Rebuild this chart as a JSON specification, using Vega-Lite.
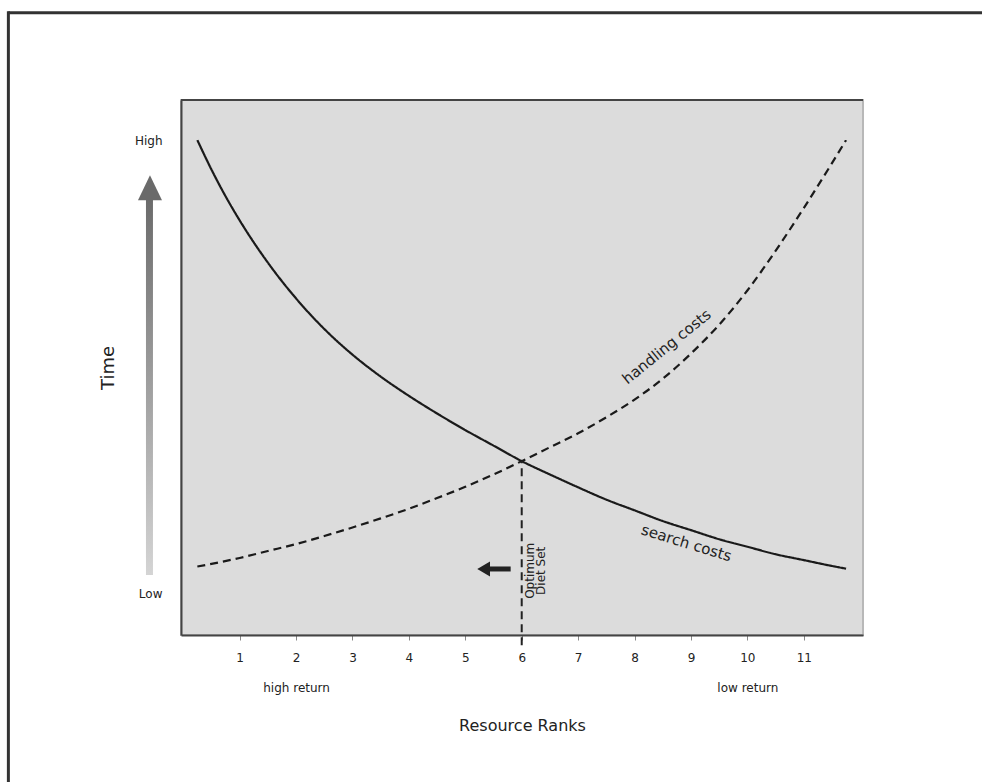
{
  "$schema": "https://vega.github.io/schema/vega-lite/v6.json",
  "width": 682,
  "height": 535,
  "autosize": {"type": "none"},
  "padding": {"left": 181, "top": 100, "right": 119, "bottom": 147},
  "background": "white",
  "config": {
    "font": "DejaVu Sans",
    "view": {"fill": "#dcdcdc", "stroke": "#b8b8b8", "strokeWidth": 2},
    "axis": {"grid": false}
  },
  "datasets": {
    "curves": [
      {"curve": "search", "x": 0.25, "y": 9.25},
      {"curve": "search", "x": 0.5, "y": 8.7},
      {"curve": "search", "x": 0.75, "y": 8.2},
      {"curve": "search", "x": 1, "y": 7.75},
      {"curve": "search", "x": 1.5, "y": 6.96},
      {"curve": "search", "x": 2, "y": 6.29},
      {"curve": "search", "x": 2.5, "y": 5.72},
      {"curve": "search", "x": 3, "y": 5.24},
      {"curve": "search", "x": 3.5, "y": 4.83},
      {"curve": "search", "x": 4, "y": 4.47},
      {"curve": "search", "x": 4.5, "y": 4.14},
      {"curve": "search", "x": 5, "y": 3.83},
      {"curve": "search", "x": 5.5, "y": 3.54},
      {"curve": "search", "x": 6, "y": 3.25},
      {"curve": "search", "x": 6.5, "y": 3.0},
      {"curve": "search", "x": 7, "y": 2.76},
      {"curve": "search", "x": 7.5, "y": 2.53},
      {"curve": "search", "x": 8, "y": 2.33},
      {"curve": "search", "x": 8.5, "y": 2.13},
      {"curve": "search", "x": 9, "y": 1.96},
      {"curve": "search", "x": 9.5, "y": 1.79},
      {"curve": "search", "x": 10, "y": 1.65},
      {"curve": "search", "x": 10.5, "y": 1.51},
      {"curve": "search", "x": 11, "y": 1.4},
      {"curve": "search", "x": 11.5, "y": 1.29},
      {"curve": "search", "x": 11.75, "y": 1.24},
      {"curve": "handling", "x": 0.25, "y": 1.28},
      {"curve": "handling", "x": 0.5, "y": 1.33},
      {"curve": "handling", "x": 1, "y": 1.44},
      {"curve": "handling", "x": 1.5, "y": 1.57},
      {"curve": "handling", "x": 2, "y": 1.7},
      {"curve": "handling", "x": 2.5, "y": 1.85},
      {"curve": "handling", "x": 3, "y": 2.01},
      {"curve": "handling", "x": 3.5, "y": 2.18},
      {"curve": "handling", "x": 4, "y": 2.36},
      {"curve": "handling", "x": 4.5, "y": 2.56},
      {"curve": "handling", "x": 5, "y": 2.77},
      {"curve": "handling", "x": 5.5, "y": 3.0},
      {"curve": "handling", "x": 6, "y": 3.25},
      {"curve": "handling", "x": 6.5, "y": 3.51},
      {"curve": "handling", "x": 7, "y": 3.77},
      {"curve": "handling", "x": 7.5, "y": 4.07},
      {"curve": "handling", "x": 8, "y": 4.4},
      {"curve": "handling", "x": 8.5, "y": 4.79},
      {"curve": "handling", "x": 9, "y": 5.26},
      {"curve": "handling", "x": 9.5, "y": 5.8},
      {"curve": "handling", "x": 10, "y": 6.44},
      {"curve": "handling", "x": 10.5, "y": 7.18},
      {"curve": "handling", "x": 11, "y": 7.98},
      {"curve": "handling", "x": 11.5, "y": 8.82},
      {"curve": "handling", "x": 11.75, "y": 9.25}
    ],
    "labels": [
      {"label": "handling costs", "x": 8.57, "y": 5.39},
      {"label": "search costs", "x": 8.92, "y": 1.72},
      {"label": "Optimum\nDiet Set", "x": 6.155, "y": 1.2}
    ]
  },
  "layer": [
    {
      "data": {"name": "curves"},
      "mark": {"type": "line", "interpolate": "monotone", "color": "#1a1a1a", "strokeWidth": 2.2},
      "encoding": {
        "x": {
          "field": "x", "type": "quantitative",
          "scale": {"domain": [-0.04, 12.05], "nice": false, "zero": false},
          "axis": {
            "title": "Resource Ranks",
            "values": [1, 2, 3, 4, 5, 6, 7, 8, 9, 10, 11],
            "format": "d",
            "labelExpr": "datum.value == 2 ? ['2', 'high return'] : datum.value == 10 ? ['10', 'low return'] : datum.label",
            "labelFontSize": 12,
            "labelLineHeight": 30,
            "labelColor": "#222",
            "labelPadding": 12,
            "tickSize": 5,
            "tickColor": "#888",
            "domainColor": "#444",
            "domainWidth": 2,
            "titleFontSize": 16,
            "titleFontWeight": "normal",
            "titleColor": "#222",
            "titlePadding": 24
          }
        },
        "y": {
          "field": "y", "type": "quantitative",
          "scale": {"domain": [0, 10], "nice": false, "zero": false},
          "axis": {
            "title": "Time",
            "values": [0.785, 9.24],
            "labelExpr": "datum.value > 5 ? 'High' : 'Low'",
            "labelFontSize": 12,
            "labelColor": "#222",
            "labelPadding": 19,
            "ticks": false,
            "domainColor": "#444",
            "domainWidth": 2,
            "titleFontSize": 18,
            "titleFontWeight": "normal",
            "titleColor": "#222",
            "titlePadding": 17
          }
        },
        "strokeDash": {
          "field": "curve", "type": "nominal",
          "scale": {"domain": ["search", "handling"], "range": [[1, 0], [8, 5]]},
          "legend": null
        }
      }
    },
    {
      "data": {"values": [{}]},
      "mark": {"type": "rule", "color": "#444", "strokeWidth": 2},
      "encoding": {"y": {"datum": 10}}
    },
    {
      "data": {"values": [{}]},
      "mark": {"type": "rule", "color": "#333", "strokeWidth": 3, "clip": false},
      "encoding": {"x": {"datum": -3.1}, "x2": {"datum": 16}, "y": {"datum": 11.63}}
    },
    {
      "data": {"values": [{}]},
      "mark": {"type": "rule", "color": "#333", "strokeWidth": 3, "clip": false},
      "encoding": {"x": {"datum": -3.1}, "y": {"datum": -4}, "y2": {"datum": 11.66}}
    },
    {
      "data": {"values": [{}]},
      "mark": {
        "type": "rect", "clip": false,
        "fill": {"gradient": "linear", "x1": 0, "y1": 0, "x2": 0, "y2": 1,
          "stops": [{"offset": 0, "color": "#6a6a6a"}, {"offset": 1, "color": "#d4d4d4"}]}
      },
      "encoding": {"x": {"datum": -0.661}, "x2": {"datum": -0.537}, "y": {"datum": 1.12}, "y2": {"datum": 8.2}}
    },
    {
      "data": {"values": [{}]},
      "mark": {"type": "point", "shape": "M0,-1L-0.96,1L0.96,1Z", "filled": true, "color": "#6a6a6a", "opacity": 1, "size": 625, "clip": false},
      "encoding": {"x": {"datum": -0.59}, "y": {"datum": 8.36}}
    },
    {
      "data": {"values": [{}]},
      "mark": {"type": "rule", "color": "#222", "strokeWidth": 2, "strokeDash": [8, 5], "clip": false},
      "encoding": {"x": {"datum": 6}, "y": {"datum": -0.19}, "y2": {"datum": 3.25}}
    },
    {
      "data": {"values": [{}]},
      "mark": {"type": "rule", "color": "#222", "strokeWidth": 5, "strokeCap": "butt"},
      "encoding": {"x": {"datum": 5.42}, "x2": {"datum": 5.804}, "y": {"datum": 1.234}}
    },
    {
      "data": {"values": [{}]},
      "mark": {"type": "point", "shape": "M-0.85,0L0.85,-1L0.85,1Z", "filled": true, "color": "#222", "opacity": 1, "size": 225},
      "encoding": {"x": {"datum": 5.325}, "y": {"datum": 1.234}}
    },
    {
      "data": {"name": "labels"},
      "transform": [{"filter": "datum.label == 'handling costs'"}],
      "mark": {"type": "text", "angle": 321, "fontSize": 15, "color": "#222", "align": "center", "baseline": "middle"},
      "encoding": {"x": {"field": "x", "type": "quantitative"}, "y": {"field": "y", "type": "quantitative"}, "text": {"field": "label"}}
    },
    {
      "data": {"name": "labels"},
      "transform": [{"filter": "datum.label == 'search costs'"}],
      "mark": {"type": "text", "angle": 17, "fontSize": 15, "color": "#222", "align": "center", "baseline": "middle"},
      "encoding": {"x": {"field": "x", "type": "quantitative"}, "y": {"field": "y", "type": "quantitative"}, "text": {"field": "label"}}
    },
    {
      "data": {"name": "labels"},
      "transform": [
        {"filter": "indexof(datum.label, 'Optimum') == 0"},
        {"calculate": "split(datum.label, '\\n')", "as": "lines"}
      ],
      "mark": {"type": "text", "angle": 270, "fontSize": 12, "lineHeight": 10.5, "color": "#222", "align": "center", "baseline": "middle"},
      "encoding": {"x": {"field": "x", "type": "quantitative"}, "y": {"field": "y", "type": "quantitative"}, "text": {"field": "lines"}}
    }
  ]
}
